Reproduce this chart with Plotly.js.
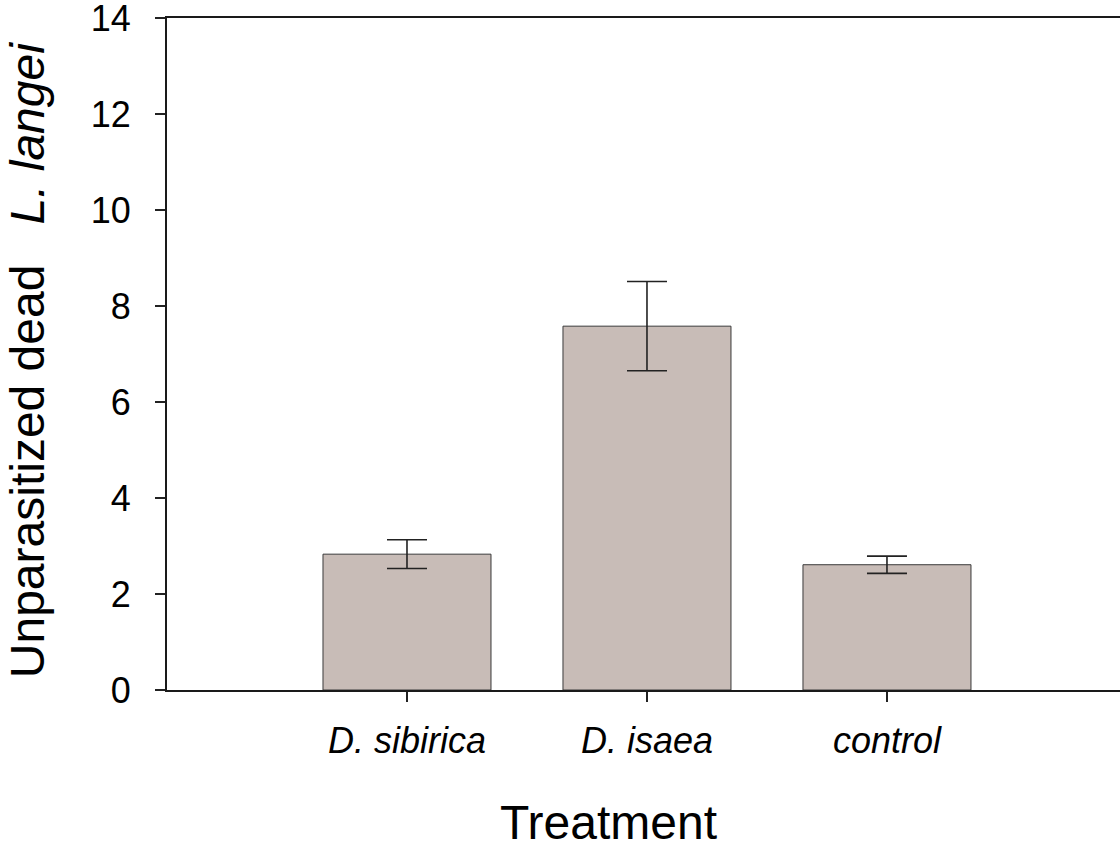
<!DOCTYPE html>
<html>
<head>
<meta charset="utf-8">
<script src="https://cdn.plot.ly/plotly-3.0.1.min.js"></script>
<style>
html, body { margin: 0; padding: 0; background: #ffffff; overflow: hidden; }
#chart { width: 1120px; height: 848px; }
</style>
</head>
<body>
<div id="chart"></div>
<script>
// Data
const categories = ["<i>D. sibirica</i>", "<i>D. isaea</i>", "<i>control</i>"];
const meanDead = [2.83, 7.58, 2.61];
const seDead = [0.30, 0.93, 0.18];
const yTickValues = [0, 2, 4, 6, 8, 10, 12, 14];
const xTitle = "Treatment";
const yTitle = "Unparasitized dead&nbsp;&nbsp;&nbsp;<i>L. langei</i>&nbsp;";

const FONT = '"Liberation Sans", Arial, Helvetica, sans-serif';
const xIndex = categories.map((c, i) => i);

const trace = {
  type: "bar",
  x: xIndex,
  y: meanDead,
  width: 0.7,
  marker: { color: "#c8bcb7", line: { color: "#3a3a3a", width: 1 } },
  error_y: { type: "data", array: seDead, visible: true, color: "#222222", thickness: 1.6, width: 20 },
  hoverinfo: "skip"
};

const layout = {
  width: 1120,
  height: 848,
  margin: { l: 167, r: 0, t: 18, b: 158, pad: 0 },
  paper_bgcolor: "#ffffff",
  plot_bgcolor: "#ffffff",
  showlegend: false,
  font: { family: FONT, color: "#000000", size: 36 },
  xaxis: {
    range: [-1, 2.971],
    tickmode: "array",
    tickvals: xIndex,
    ticktext: categories,
    ticks: "outside",
    ticklen: 10,
    tickwidth: 1.6,
    tickcolor: "#222222",
    ticklabelstandoff: 8,
    tickfont: { family: FONT, size: 36, color: "#000000" },
    showline: true,
    linecolor: "#1a1a1a",
    linewidth: 2,
    mirror: true,
    showgrid: false,
    zeroline: false,
    fixedrange: true
  },
  yaxis: {
    range: [0, 14],
    tickmode: "array",
    tickvals: yTickValues,
    ticktext: yTickValues.map(String),
    ticks: "outside",
    ticklen: 10,
    tickwidth: 1.6,
    tickcolor: "#222222",
    ticklabelstandoff: 17,
    ticklabeloverflow: "allow",
    tickfont: { family: FONT, size: 36, color: "#000000" },
    showline: true,
    linecolor: "#1a1a1a",
    linewidth: 2,
    showgrid: false,
    zeroline: false,
    fixedrange: true,
    title: { text: yTitle, font: { family: FONT, size: 48, color: "#000000" }, standoff: 31 }
  },
  annotations: [
    {
      text: xTitle,
      xref: "paper", yref: "paper",
      x: (608 - 167) / 953, y: 0,
      xanchor: "center", yanchor: "top",
      yshift: -104,
      showarrow: false,
      font: { family: FONT, size: 48, color: "#000000" }
    }
  ]
};

Plotly.newPlot("chart", [trace], layout, { staticPlot: true, displayModeBar: false });
</script>
</body>
</html>
